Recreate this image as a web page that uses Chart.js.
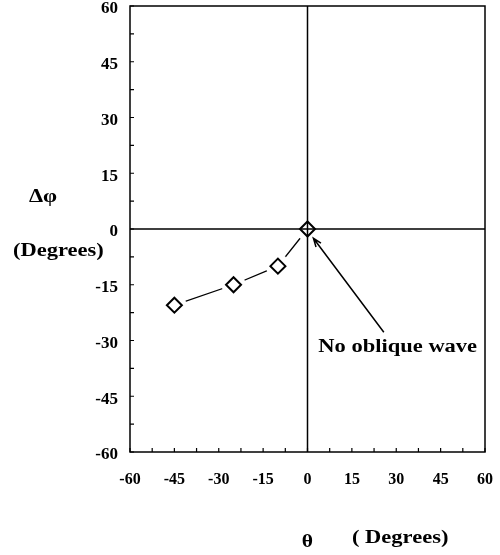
<!DOCTYPE html>
<html>
<head>
<meta charset="utf-8">
<script src="https://cdn.jsdelivr.net/npm/chart.js@4"></script>
<style>
  html, body { margin: 0; padding: 0; background: #fff; }
  #wrap { width: 500px; height: 555px; position: relative; }
</style>
</head>
<body>
<div id="wrap"><canvas id="phaseChart"></canvas></div>
<script>
// incidence angle vs. phase shift
const thetaDeg = [-45, -25, -10, 0];
const deltaPhi = [-20.5, -15, -10, 0];

const axisMin = -60;
const axisMax = 60;
const minorStep = 7.5;
const labelStep = 15;

// callout pointing at the origin point, in data units
const arrowTip = [2, -2.5];
const arrowTail = [25.8, -27.8];
const calloutAt = [30.5, -33.2];
const calloutText = 'No oblique wave';

const serif = '"Liberation Serif", "Times New Roman", serif';

function points() {
    return thetaDeg.map((t, i) => ({ x: t, y: deltaPhi[i] }));
}

function stretchedText(ctx, text, x, y, size, sx, align) {
    ctx.save();
    ctx.font = 'bold ' + size + 'px ' + serif;
    ctx.textBaseline = 'alphabetic';
    ctx.textAlign = 'left';
    const w = ctx.measureText(text).width * sx;
    let left = x;
    if (align === 'center') left = x - w / 2;
    ctx.translate(left, y);
    ctx.scale(sx, 1);
    ctx.fillStyle = '#000';
    ctx.fillText(text, 0, 0);
    ctx.restore();
}

const framePlugin = {
    id: 'frame',
    beforeDatasetsDraw(chart) {
        const { ctx, chartArea: a, scales: { x, y } } = chart;
        ctx.save();
        ctx.strokeStyle = '#000';
        ctx.lineWidth = 1.5;
        ctx.strokeRect(a.left, a.top, a.right - a.left, a.bottom - a.top);
        // inward tick marks on the bottom and left edges
        ctx.lineWidth = 1.2;
        ctx.beginPath();
        x.ticks.forEach(t => {
            const px = x.getPixelForValue(t.value);
            ctx.moveTo(px, a.bottom);
            ctx.lineTo(px, a.bottom - 4);
        });
        y.ticks.forEach(t => {
            const py = y.getPixelForValue(t.value);
            ctx.moveTo(a.left, py);
            ctx.lineTo(a.left + 4, py);
        });
        ctx.stroke();
        ctx.restore();
    },
    afterDatasetsDraw(chart) {
        const { ctx, chartArea: a, scales: { x, y } } = chart;
        const x0 = x.getPixelForValue(0);
        const y0 = y.getPixelForValue(0);
        ctx.save();
        ctx.strokeStyle = '#000';
        ctx.lineWidth = 1.5;
        ctx.beginPath();
        ctx.moveTo(a.left, y0);
        ctx.lineTo(a.right, y0);
        ctx.moveTo(x0, a.top);
        ctx.lineTo(x0, a.bottom);
        ctx.stroke();
        ctx.restore();
    },
    afterDraw(chart) {
        const { ctx, scales: { x, y } } = chart;

        // callout arrow
        const tx = x.getPixelForValue(arrowTip[0]);
        const ty = y.getPixelForValue(arrowTip[1]);
        const ex = x.getPixelForValue(arrowTail[0]);
        const ey = y.getPixelForValue(arrowTail[1]);
        const ang = Math.atan2(ey - ty, ex - tx);
        const head = 9;
        ctx.save();
        ctx.strokeStyle = '#000';
        ctx.lineWidth = 1.5;
        ctx.beginPath();
        ctx.moveTo(ex, ey);
        ctx.lineTo(tx, ty);
        ctx.moveTo(tx + head * Math.cos(ang - 0.35), ty + head * Math.sin(ang - 0.35));
        ctx.lineTo(tx, ty);
        ctx.lineTo(tx + head * Math.cos(ang + 0.35), ty + head * Math.sin(ang + 0.35));
        ctx.stroke();
        ctx.restore();
        stretchedText(ctx, calloutText, x.getPixelForValue(calloutAt[0]),
            y.getPixelForValue(calloutAt[1]), 18, 1.25, 'center');

        // axis titles
        stretchedText(ctx, 'Δφ', 29, 202, 18, 1.25, 'left');
        stretchedText(ctx, '(Degrees)', 13, 256, 18, 1.25, 'left');
        stretchedText(ctx, 'θ', x.getPixelForValue(0), 547, 18, 1.2, 'center');
        stretchedText(ctx, '( Degrees)', 352, 543, 18, 1.25, 'left');
    }
};

function tickLabel(value) {
    return Math.abs(value % labelStep) < 1e-9 ? String(value) : '';
}

new Chart(document.getElementById('phaseChart'), {
    type: 'scatter',
    data: {
        datasets: [
            {
                // connecting line
                data: points(),
                showLine: true,
                borderColor: '#000',
                borderWidth: 1.3,
                pointRadius: 0,
                order: 3
            },
            {
                // white gap around each marker
                data: points(),
                pointStyle: 'circle',
                pointRadius: 12,
                pointBackgroundColor: '#fff',
                pointBorderColor: '#fff',
                pointBorderWidth: 0,
                order: 2
            },
            {
                data: points(),
                pointStyle: 'rectRot',
                pointRadius: 7.5,
                pointBackgroundColor: 'rgba(255,255,255,0)',
                pointBorderColor: '#000',
                pointBorderWidth: 2,
                order: 1
            }
        ]
    },
    options: {
        responsive: true,
        maintainAspectRatio: false,
        animation: false,
        layout: {
            autoPadding: false,
            padding: { top: 6, right: 15, left: 0, bottom: 0 }
        },
        plugins: {
            legend: { display: false },
            tooltip: { enabled: false }
        },
        scales: {
            x: {
                type: 'linear',
                min: axisMin,
                max: axisMax,
                grid: { display: false, drawTicks: false },
                border: { display: false },
                ticks: {
                    stepSize: minorStep,
                    autoSkip: false,
                    maxRotation: 0,
                    padding: 18,
                    color: '#000',
                    font: { family: serif, size: 16, weight: 'bold' },
                    callback: tickLabel
                },
                afterFit(scale) {
                    scale.height = 103;
                    scale.paddingLeft = 0;
                    scale.paddingRight = 0;
                }
            },
            y: {
                type: 'linear',
                min: axisMin,
                max: axisMax,
                grid: { display: false, drawTicks: false },
                border: { display: false },
                ticks: {
                    stepSize: minorStep,
                    autoSkip: false,
                    padding: 12,
                    labelOffset: 3,
                    color: '#000',
                    font: { family: serif, size: 17, weight: 'bold' },
                    callback: tickLabel
                },
                afterFit(scale) {
                    scale.width = 130;
                    scale.paddingTop = 0;
                    scale.paddingBottom = 0;
                }
            }
        }
    },
    plugins: [framePlugin]
});
</script>
</body>
</html>
